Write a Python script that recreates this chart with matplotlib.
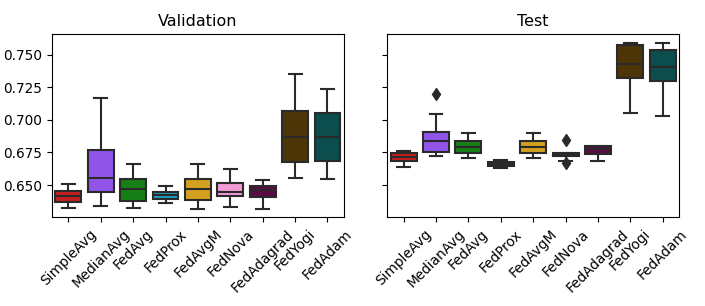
import matplotlib
matplotlib.use("Agg")
import matplotlib.pyplot as plt

METHODS = ["SimpleAvg", "MedianAvg", "FedAvg", "FedProx", "FedAvgM",
           "FedNova", "FedAdagrad", "FedYogi", "FedAdam"]
COLORS = ["#c41f1f", "#9055e8", "#167f16", "#1d9fc0", "#d4a020",
          "#f29ad6", "#5c0a44", "#4d3508", "#0c4d4d"]

# validation accuracy: whisker low, Q1, median, Q3, whisker high
val_lo = [0.6321, 0.6341, 0.6321, 0.6364, 0.6318, 0.6333, 0.6313, 0.6551, 0.6546]
val_q1 = [0.6372, 0.6446, 0.6379, 0.6392, 0.6382, 0.6413, 0.6405, 0.6674, 0.6682]
val_med = [0.6418, 0.6551, 0.6472, 0.6426, 0.6472, 0.6446, 0.6464, 0.6867, 0.6872]
val_q3 = [0.6454, 0.6767, 0.6544, 0.6446, 0.6544, 0.6515, 0.6495, 0.7072, 0.7051]
val_hi = [0.6508, 0.7172, 0.6662, 0.6492, 0.6662, 0.6621, 0.6538, 0.7354, 0.7241]
val_fliers = [[], [], [], [], [], [], [], [], []]

# test accuracy
test_lo = [0.6641, 0.6721, 0.6708, 0.6631, 0.6708, 0.6687, 0.6687, 0.7051, 0.7028]
test_q1 = [0.6682, 0.6754, 0.6744, 0.6646, 0.6746, 0.6721, 0.6738, 0.7321, 0.7303]
test_med = [0.6718, 0.6836, 0.6790, 0.6662, 0.6795, 0.6733, 0.6777, 0.7428, 0.7410]
test_q3 = [0.6746, 0.6908, 0.6836, 0.6679, 0.6836, 0.6749, 0.6800, 0.7574, 0.7538]
test_hi = [0.6764, 0.7049, 0.6900, 0.6692, 0.6900, 0.6749, 0.6803, 0.7590, 0.7592]
test_fliers = [[], [0.7197], [], [], [], [0.6844, 0.6672], [], [], []]

EDGE = "#2a2a2a"


def stats(lo, q1, med, q3, hi, fl):
    return [dict(whislo=a, q1=b, med=c, q3=d, whishi=e, fliers=f, label=m)
            for a, b, c, d, e, f, m in zip(lo, q1, med, q3, hi, fl, METHODS)]


def draw(ax, st, title):
    lp = dict(color=EDGE, linewidth=1.5)
    bp = ax.bxp(st, positions=range(len(st)), widths=0.8, patch_artist=True,
                boxprops=dict(edgecolor=EDGE, linewidth=1.5),
                medianprops=lp, whiskerprops=lp, capprops=lp,
                flierprops=dict(marker="d", markerfacecolor=EDGE,
                                markeredgecolor=EDGE, markersize=6.5,
                                linestyle="none"))
    for patch, c in zip(bp["boxes"], COLORS):
        patch.set_facecolor(c)
    ax.set_xlim(-0.5, len(st) - 0.5)
    ax.set_xticks(range(len(st)))
    ax.set_xticklabels(METHODS, rotation=45, fontsize=9.8)
    ax.tick_params(axis="y", labelsize=9.8)
    ax.set_title(title, fontsize=11.5)


fig, axes = plt.subplots(1, 2, figsize=(7.05, 3.06), dpi=100, sharey=True)
fig.subplots_adjust(left=0.074, right=0.963, bottom=0.29, top=0.888, wspace=0.15)

draw(axes[0], stats(val_lo, val_q1, val_med, val_q3, val_hi, val_fliers), "Validation")
draw(axes[1], stats(test_lo, test_q1, test_med, test_q3, test_hi, test_fliers), "Test")
axes[0].set_ylim(0.6252, 0.7659)
axes[0].set_yticks([0.650, 0.675, 0.700, 0.725, 0.750])
axes[0].set_yticklabels(["0.650", "0.675", "0.700", "0.725", "0.750"])

fig.savefig("out.png", dpi=100)
